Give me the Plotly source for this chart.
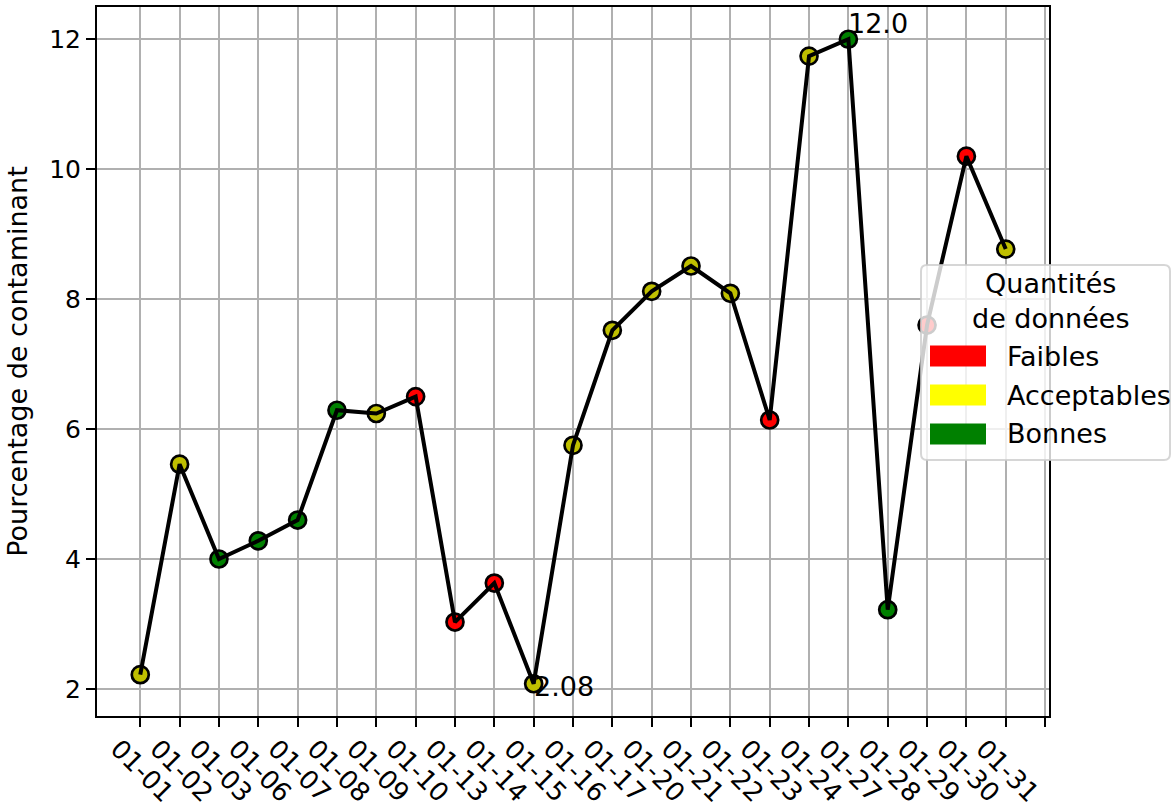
import plotly.graph_objects as go

categories = ["01-01", "01-02", "01-03", "01-06", "01-07", "01-08", "01-09", "01-10",
              "01-13", "01-14", "01-15", "01-16", "01-17", "01-20", "01-21", "01-22",
              "01-23", "01-24", "01-27", "01-28", "01-29", "01-30", "01-31"]
values = [2.22, 5.46, 4.0, 4.28, 4.6, 6.29, 6.24, 6.5, 3.03, 3.63, 2.08, 5.75, 7.52,
          8.12, 8.51, 8.09, 6.14, 11.74, 12.0, 3.22, 7.6, 10.2, 8.77]
quality = ["Acceptables", "Acceptables", "Bonnes", "Bonnes", "Bonnes", "Bonnes",
           "Acceptables", "Faibles", "Faibles", "Faibles", "Acceptables", "Acceptables",
           "Acceptables", "Acceptables", "Acceptables", "Acceptables", "Faibles",
           "Acceptables", "Bonnes", "Bonnes", "Faibles", "Faibles", "Acceptables"]
legend_labels = ["Faibles", "Acceptables", "Bonnes"]
legend_colors = ["red", "yellow", "green"]
marker_colors = {"Faibles": "#ff0000", "Acceptables": "#bfbf00", "Bonnes": "#008000"}

FONT = "DejaVu Sans"
FS = 27
TFS = 25
XFS = 26

W, H = 1171, 807
L, R, T, B = 97, 1049, 7, 716

def px(x):
    return (x - L) / (R - L)

def py(y):
    return (B - y) / (B - T)

xs = list(range(len(categories)))
fig = go.Figure()
fig.add_trace(go.Scatter(
    x=xs, y=values, mode="markers",
    marker=dict(size=17, color=[marker_colors[q] for q in quality],
                line=dict(color="black", width=2.7)),
    showlegend=False, hoverinfo="skip"))
fig.add_trace(go.Scatter(
    x=xs, y=values, mode="lines", line=dict(color="black", width=4),
    showlegend=False))

imax = values.index(max(values))
imin = values.index(min(values))
fig.add_annotation(x=xs[imax], y=values[imax], text=f"{values[imax]:.1f}", showarrow=False,
                   xanchor="left", yanchor="bottom", xshift=-2, yshift=-2,
                   font=dict(family=FONT, size=FS, color="black"))
fig.add_annotation(x=xs[imin], y=values[imin], text=f"{values[imin]:.2f}", showarrow=False,
                   xanchor="left", yanchor="middle", xshift=-2, yshift=-3,
                   font=dict(family=FONT, size=FS, color="black"))

# legend (drawn manually, matplotlib style)
x0, x1, y0, y1, r = 921, 1170, 265, 460, 6
path = (f"M {px(x0 + r)} {py(y0)} L {px(x1 - r)} {py(y0)} "
        f"Q {px(x1)} {py(y0)} {px(x1)} {py(y0 + r)} L {px(x1)} {py(y1 - r)} "
        f"Q {px(x1)} {py(y1)} {px(x1 - r)} {py(y1)} L {px(x0 + r)} {py(y1)} "
        f"Q {px(x0)} {py(y1)} {px(x0)} {py(y1 - r)} L {px(x0)} {py(y0 + r)} "
        f"Q {px(x0)} {py(y0)} {px(x0 + r)} {py(y0)} Z")
fig.add_shape(type="path", path=path, xref="paper", yref="paper", layer="above",
              fillcolor="rgba(255,255,255,0.8)", line=dict(color="rgba(204,204,204,0.8)", width=2))
fig.add_annotation(x=px(1051), y=py(301), xref="paper", yref="paper", text="Quantités<br>de données",
                   showarrow=False, xanchor="center", yanchor="middle", align="center",
                   font=dict(family=FONT, size=FS, color="black"))
centers = [356, 395, 434]
for lab, col, cy in zip(legend_labels, legend_colors, centers):
    fig.add_shape(type="rect", xref="paper", yref="paper", layer="above",
                  x0=px(930), x1=px(986), y0=py(cy - 10.5), y1=py(cy + 10.5),
                  fillcolor=col, line=dict(width=0))
    fig.add_annotation(x=px(1005), y=py(cy), xref="paper", yref="paper", text=lab,
                       showarrow=False, xanchor="left", yanchor="middle",
                       font=dict(family=FONT, size=FS, color="black"))

fig.update_layout(
    width=W, height=H, paper_bgcolor="white", plot_bgcolor="white",
    margin=dict(l=L, r=W - R, t=T, b=H - B, pad=0, autoexpand=False),
    font=dict(family=FONT, size=FS, color="black"),
)
fig.update_xaxes(
    range=[-1.1, 23.1], tickvals=list(range(len(categories) + 1)),
    ticktext=categories + [""], tickangle=45, ticklabelshift=-22, ticklabelstandoff=-4,
    showgrid=True, gridcolor="#b0b0b0", gridwidth=2, automargin=False,
    showline=True, linecolor="black", linewidth=2, mirror=True,
    ticks="outside", ticklen=9, tickwidth=2, tickcolor="black",
    zeroline=False, tickfont=dict(family=FONT, size=XFS))
fig.update_yaxes(
    range=[1.584, 12.496], tickvals=[2, 4, 6, 8, 10, 12], automargin=False,
    showgrid=True, gridcolor="#b0b0b0", gridwidth=2,
    showline=True, linecolor="black", linewidth=2, mirror=True,
    ticks="outside", ticklen=9, tickwidth=2, tickcolor="black",
    zeroline=False, tickfont=dict(family=FONT, size=TFS),
    title=dict(text="Pourcentage de contaminant", font=dict(family=FONT, size=FS), standoff=14))

fig.write_html("out.html", config={"displayModeBar": False},
               post_script="document.body.style.margin='0';document.body.style.overflow='hidden';")
